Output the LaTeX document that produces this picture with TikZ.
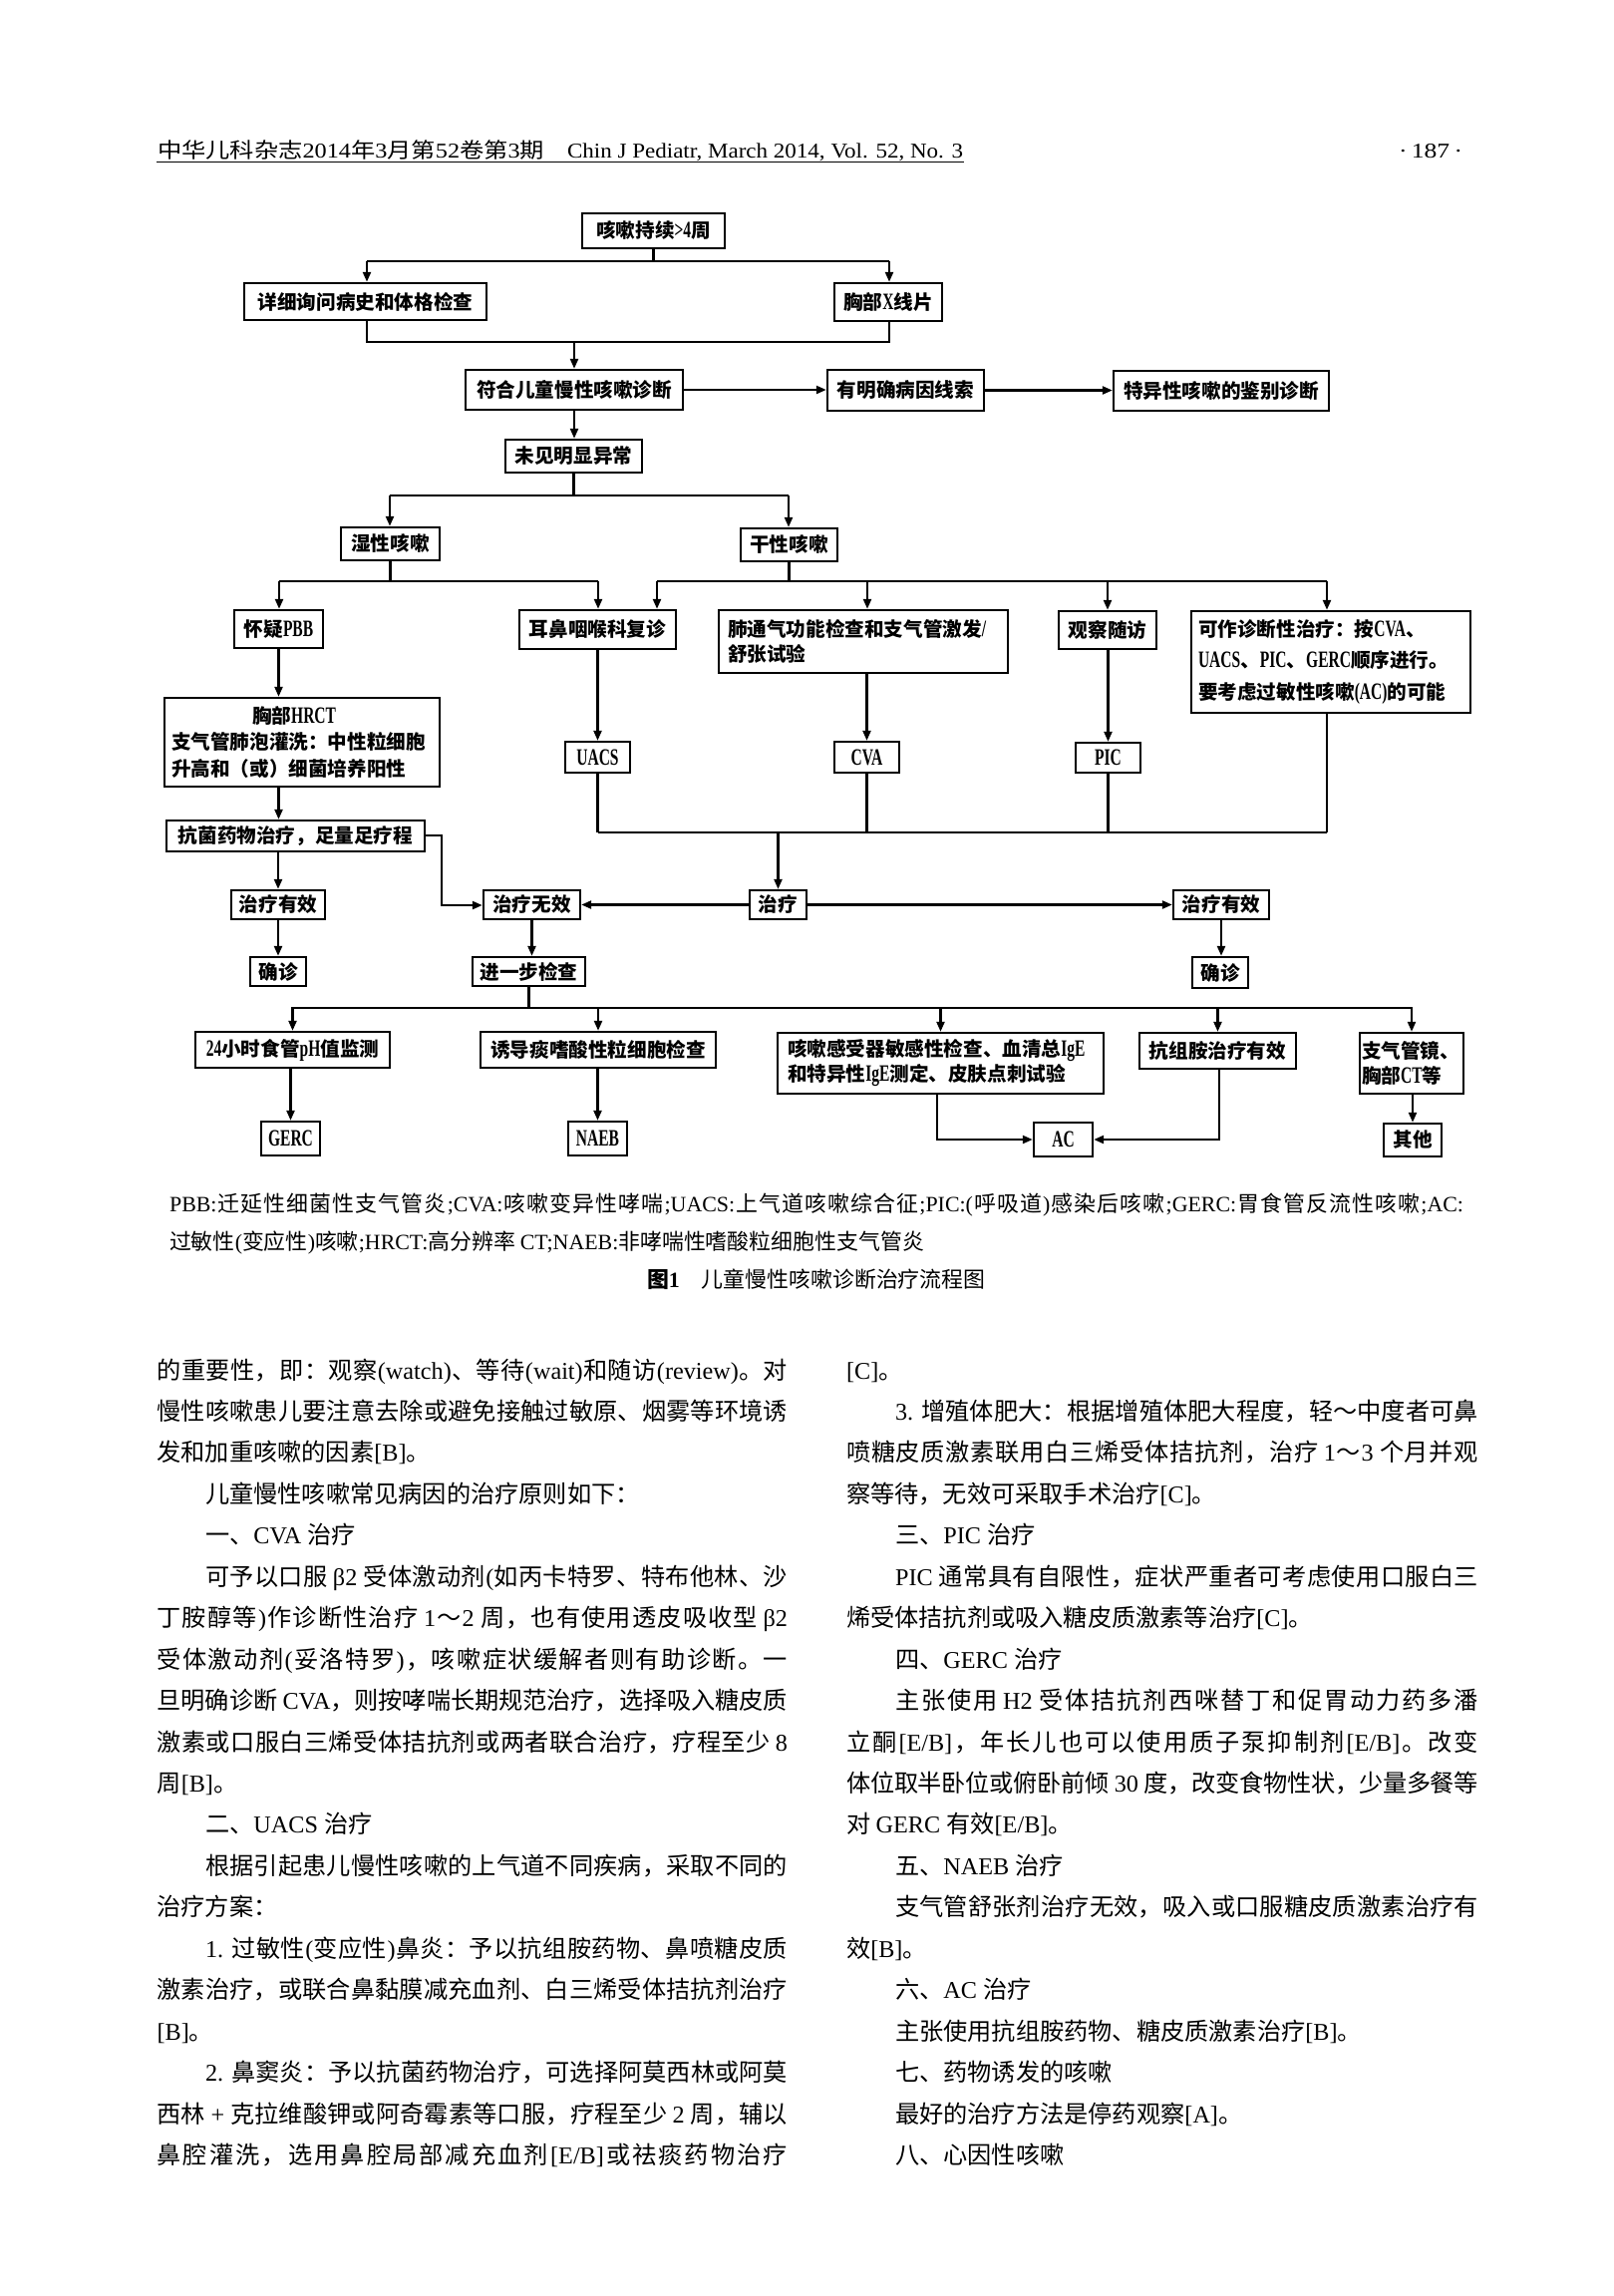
\documentclass[tikz,border=0pt]{standalone}
\usepackage{fontspec}
\usepackage{graphicx}
\usetikzlibrary{arrows.meta}
\setmainfont{Liberation Serif}
\newfontfamily\cjkf{Noto Sans CJK SC}
\newfontfamily\boxlatin{Liberation Serif}[FakeStretch=0.66,Scale=1.2]
\newcommand\latf{\rmfamily}
\newcommand\cjkglue{\hskip0pt plus 0.6em minus 0.04em\relax}
\newdimen\px \px=0.13mm
\newcount\cjkcnt
\newcommand\setcjkrange[2]{\cjkcnt=#1\relax\loop\XeTeXcharclass\cjkcnt=1\relax\advance\cjkcnt by 1\relax\ifnum\cjkcnt<#2\relax\repeat}
\setcjkrange{"4E00}{"A000}
\setcjkrange{"3000}{"3040}
\setcjkrange{"FF00}{"FFF0}
\XeTeXinterchartokenstate=1
\XeTeXinterchartoks 0 1 = {\cjkglue\cjkf}
\XeTeXinterchartoks 1 0 = {\cjkglue\latf}
\XeTeXinterchartoks 1 1 = {\cjkglue}
\XeTeXinterchartoks 4095 1 = {\cjkf}
\XeTeXinterchartoks 4095 0 = {\latf}
\newcommand\bxf[1]{\bfseries\fontsize{7.25}{#1}\selectfont\let\latf\boxlatin}
\newcommand\bodyf{\fontsize{8.95}{15}\selectfont}
\newcommand\legf{\fontsize{8.1}{12}\selectfont}
\newcommand\hdf{\fontsize{7.8}{10}\selectfont}
\tikzset{
  box/.style={draw,line width=0.9pt,inner sep=0pt,font=\bxf{9}},
  arr/.style={-{Triangle[length=1.3mm,width=1.05mm]}},
  txt/.style={anchor=base west,inner sep=0pt,font=\bodyf},
}
\newcommand\mybox[7][]{\node[box,minimum width={(#5-#3)*0.13mm},minimum height={(#6-#4)*0.13mm},#1] (#2) at ({(#3+#5)/2},{(#4+#6)/2}) {#7};}
\newcommand\bodyfull[5]{\node[txt] (#1) at (#2,{1383+41.45*#3}) {\makebox[#4\px][s]{#5}};}
\newcommand\bodyshort[4]{\node[txt] (#1) at (#2,{1383+41.45*#3}) {#4};}
\begin{document}
\begin{tikzpicture}[x=0.13mm,y=-0.13mm,line width=0.8pt]
\useasboundingbox (0,0) rectangle (1619,2303);
\fill[white] (0,0) rectangle (1619,2303);

% header
\node[anchor=base west,inner sep=0pt,font=\hdf] (hd1) at (157,158) {\resizebox{388\px}{\height}{中华儿科杂志2014年3月第52卷第3期}};
\node[anchor=base west,inner sep=0pt,font=\hdf] (hd2) at (568,158) {\resizebox{397\px}{\height}{Chin J Pediatr, March 2014, Vol. 52, No. 3}};
\node[anchor=base west,inner sep=0pt,font=\hdf] (hd3) at (1402,158) {\resizebox{64\px}{\height}{·\,187\,·}};
\draw[line width=0.5pt] ([yshift=-0.55mm]hd1.base west) -- ([yshift=-0.55mm]hd2.base east);

% boxes
\mybox{b1}{584}{214}{727}{249}{咳嗽持续>4周}
\mybox{b2}{245}{284}{488}{321}{详细询问病史和体格检查}
\mybox{b3}{837}{284}{945}{322}{胸部X线片}
\mybox{b4}{467}{371}{685}{411}{符合儿童慢性咳嗽诊断}
\mybox{b5}{830}{371}{987}{412}{有明确病因线索}
\mybox{b6}{1117}{372}{1333}{412}{特异性咳嗽的鉴别诊断}
\mybox{b7}{507}{441}{644}{474}{未见明显异常}
\mybox{b8}{342}{529}{441}{562}{湿性咳嗽}
\mybox{b9}{743}{530}{840}{563}{干性咳嗽}
\mybox{b10}{235}{612}{324}{650}{怀疑PBB}
\mybox{b11}{521}{612}{678}{651}{耳鼻咽喉科复诊}
\mybox[text width=35.36mm,align=left,inner xsep=1.17mm,font=\bxf{9.25}]{b12}{721}{612}{1011}{675}{肺通气功能检查和支气管激发/\\舒张试验}
\mybox{b13}{1062}{613}{1160}{651}{观察随访}
\mybox[text width=34.58mm,align=left,inner xsep=0.91mm,font=\bxf{11.8}]{b14}{1195}{613}{1475}{715}{可作诊断性治疗：按CVA、\\UACS、PIC、GERC顺序进行。\\要考虑过敏性咳嗽(AC)的可能}
\mybox[text width=34.06mm,align=left,inner xsep=0.91mm,font=\bxf{9.8}]{b15}{165}{700}{441}{789}{\hspace*{81\px}胸部HRCT\\支气管肺泡灌洗：中性粒细胞\\升高和（或）细菌培养阳性}
\mybox{b16}{167}{823}{426}{854}{抗菌药物治疗，足量足疗程}
\mybox{b17}{232}{893}{326}{922}{治疗有效}
\mybox{b18}{485}{893}{582}{922}{治疗无效}
\mybox{b19}{752}{893}{809}{922}{治疗}
\mybox{b20}{1177}{893}{1273}{922}{治疗有效}
\mybox{b21}{251}{960}{307}{989}{确诊}
\mybox{b22}{474}{960}{587}{989}{进一步检查}
\mybox{b23}{1196}{960}{1252}{991}{确诊}
\mybox{b24}{567}{744}{632}{775}{UACS}
\mybox{b25}{837}{744}{902}{775}{CVA}
\mybox{b26}{1079}{745}{1144}{775}{PIC}
\mybox{b27}{196}{1035}{391}{1071}{24小时食管pH值监测}
\mybox{b28}{482}{1035}{718}{1071}{诱导痰嗜酸性粒细胞检查}
\mybox[text width=39.91mm,align=left,inner xsep=1.3mm,font=\bxf{9.25}]{b29}{780}{1036}{1107}{1097}{咳嗽感受器敏感性检查、血清总IgE\\和特异性IgE测定、皮肤点刺试验}
\mybox{b30}{1143}{1036}{1300}{1072}{抗组胺治疗有效}
\mybox[text width=13mm,align=left,inner xsep=0.26mm,font=\bxf{9.6}]{b31}{1364}{1036}{1468}{1097}{支气管镜、\\胸部CT等}
\mybox{b32}{262}{1125}{321}{1159}{GERC}
\mybox{b33}{570}{1125}{629}{1159}{NAEB}
\mybox{b34}{1037}{1126}{1096}{1160}{AC}
\mybox{b35}{1388}{1127}{1446}{1160}{其他}

% junction coordinates
\coordinate (c1l) at (368,262); \coordinate (c1r) at (892,262);
\coordinate (c2l) at (368,343); \coordinate (c2r) at (892,343);
\coordinate (c3l) at (391,497); \coordinate (c3r) at (791,497);
\coordinate (c4a) at (280,583); \coordinate (c4b) at (600,583);
\coordinate (c4c) at (659,583); \coordinate (c4d) at (870,583);
\coordinate (c4e) at (1111,583); \coordinate (c4f) at (1331,583);
\coordinate (c5) at (443,838); \coordinate (c6) at (443,908);
\coordinate (c7l) at (600,835); \coordinate (c7r) at (1331,835);
\coordinate (c8l) at (292,1011); \coordinate (c8r) at (1417,1011);
\coordinate (c9l) at (940,1143); \coordinate (c9r) at (1223,1143);

% connectors
\draw (b1.south) -- (b1.south |- c1l);
\draw (c1l) -- (c1r);
\draw[arr] (c1l) -- (c1l |- b2.north);
\draw[arr] (c1r) -- (c1r |- b3.north);
\draw (c2l |- b2.south) -- (c2l) -- (c2r) -- (c2r |- b3.south);
\draw[arr] (b4.north |- c2l) -- (b4.north);
\draw[arr] (b4.east) -- (b4.east -| b5.west);
\draw[arr] (b5.east) -- (b5.east -| b6.west);
\draw[arr] (b4.south) -- (b4.south |- b7.north);
\draw (b7.south) -- (b7.south |- c3l);
\draw (c3l) -- (c3r);
\draw[arr] (c3l) -- (c3l |- b8.north);
\draw[arr] (c3r) -- (c3r |- b9.north);
\draw (b8.south) -- (b8.south |- c4a);
\draw (c4a) -- (c4b);
\draw (b9.south) -- (b9.south |- c4c);
\draw (c4c) -- (c4f);
\draw[arr] (c4a) -- (c4a |- b10.north);
\draw[arr] (c4b) -- (c4b |- b11.north);
\draw[arr] (c4c) -- (c4c |- b11.north);
\draw[arr] (c4d) -- (c4d |- b12.north);
\draw[arr] (c4e) -- (c4e |- b13.north);
\draw[arr] (c4f) -- (c4f |- b14.north);
\draw[arr] (b10.south) -- (b10.south |- b15.north);
\draw[arr] (b10.south |- b15.south) -- (b10.south |- b16.north);
\draw[arr] (b17.north |- b16.south) -- (b17.north);
\draw[arr] (b17.south) -- (b17.south |- b21.north);
\draw[arr] (b16.east |- c5) -- (c5) -- (c6) -- (c6 -| b18.west);
\draw[arr] (b11.south) -- (b11.south |- b24.north);
\draw[arr] (b25.north |- b12.south) -- (b25.north);
\draw[arr] (b26.north |- b13.south) -- (b26.north);
\draw (b24.south) -- (b24.south |- c7l);
\draw (b25.south) -- (b25.south |- c7l);
\draw (b26.south) -- (b26.south |- c7l);
\draw (c7r |- b14.south) -- (c7r);
\draw (c7l) -- (c7r);
\draw[arr] (b19.north |- c7l) -- (b19.north);
\draw[arr] (b19.west) -- (b19.west -| b18.east);
\draw[arr] (b19.east) -- (b19.east -| b20.west);
\draw[arr] (b18.south) -- (b18.south |- b22.north);
\draw[arr] (b20.south) -- (b20.south |- b23.north);
\draw (b22.south) -- (b22.south |- c8l);
\draw (c8l) -- (c8r);
\draw[arr] (b27.north |- c8l) -- (b27.north);
\draw[arr] (b28.north |- c8l) -- (b28.north);
\draw[arr] (b29.north |- c8l) -- (b29.north);
\draw[arr] (b30.north |- c8l) -- (b30.north);
\draw[arr] (b31.north |- c8l) -- (b31.north);
\draw[arr] (b32.north |- b27.south) -- (b32.north);
\draw[arr] (b33.north |- b28.south) -- (b33.north);
\draw[arr] (b35.north |- b31.south) -- (b35.north);
\draw[arr] (c9l |- b29.south) -- (c9l) -- (b34.west);
\draw[arr] (c9r |- b30.south) -- (c9r) -- (b34.east);

% legend and caption
\node[txt,font=\legf] (lg1) at (169,1215) {\makebox[1298\px][s]{PBB:迁延性细菌性支气管炎;CVA:咳嗽变异性哮喘;UACS:上气道咳嗽综合征;PIC:(呼吸道)感染后咳嗽;GERC:胃食管反流性咳嗽;AC:}};
\node[txt,font=\legf] (lg2) at (169,1253) {过敏性(变应性)咳嗽;HRCT:高分辨率 CT;NAEB:非哮喘性嗜酸粒细胞性支气管炎};
\node[txt,font=\legf] (cap) at (648,1291) {{\bfseries 图1}　儿童慢性咳嗽诊断治疗流程图};

% body text, left column
\bodyfull{l0}{156.5}{0}{632.5}{的重要性，即：观察(watch)、等待(wait)和随访(review)。对}
\bodyfull{l1}{156.5}{1}{632.5}{慢性咳嗽患儿要注意去除或避免接触过敏原、烟雾等环境诱}
\bodyshort{l2}{156.5}{2}{发和加重咳嗽的因素[B]。}
\bodyshort{l3}{205}{3}{儿童慢性咳嗽常见病因的治疗原则如下：}
\bodyshort{l4}{205}{4}{一、CVA 治疗}
\bodyfull{l5}{205}{5}{584}{可予以口服 β2 受体激动剂(如丙卡特罗、特布他林、沙}
\bodyfull{l6}{156.5}{6}{632.5}{丁胺醇等)作诊断性治疗 1～2 周，也有使用透皮吸收型 β2}
\bodyfull{l7}{156.5}{7}{632.5}{受体激动剂(妥洛特罗)，咳嗽症状缓解者则有助诊断。一}
\bodyfull{l8}{156.5}{8}{632.5}{旦明确诊断 CVA，则按哮喘长期规范治疗，选择吸入糖皮质}
\bodyfull{l9}{156.5}{9}{632.5}{激素或口服白三烯受体拮抗剂或两者联合治疗，疗程至少 8}
\bodyshort{l10}{156.5}{10}{周[B]。}
\bodyshort{l11}{205}{11}{二、UACS 治疗}
\bodyfull{l12}{205}{12}{584}{根据引起患儿慢性咳嗽的上气道不同疾病，采取不同的}
\bodyshort{l13}{156.5}{13}{治疗方案：}
\bodyfull{l14}{205}{14}{584}{1. 过敏性(变应性)鼻炎：予以抗组胺药物、鼻喷糖皮质}
\bodyfull{l15}{156.5}{15}{632.5}{激素治疗，或联合鼻黏膜减充血剂、白三烯受体拮抗剂治疗}
\bodyshort{l16}{156.5}{16}{[B]。}
\bodyfull{l17}{205}{17}{584}{2. 鼻窦炎：予以抗菌药物治疗，可选择阿莫西林或阿莫}
\bodyfull{l18}{156.5}{18}{632.5}{西林 + 克拉维酸钾或阿奇霉素等口服，疗程至少 2 周，辅以}
\bodyfull{l19}{156.5}{19}{632.5}{鼻腔灌洗，选用鼻腔局部减充血剂[E/B]或祛痰药物治疗}

% body text, right column
\bodyshort{r0}{848}{0}{[C]。}
\bodyfull{r1}{897}{1}{585}{3. 增殖体肥大：根据增殖体肥大程度，轻～中度者可鼻}
\bodyfull{r2}{848}{2}{634}{喷糖皮质激素联用白三烯受体拮抗剂，治疗 1～3 个月并观}
\bodyshort{r3}{848}{3}{察等待，无效可采取手术治疗[C]。}
\bodyshort{r4}{897}{4}{三、PIC 治疗}
\bodyfull{r5}{897}{5}{585}{PIC 通常具有自限性，症状严重者可考虑使用口服白三}
\bodyshort{r6}{848}{6}{烯受体拮抗剂或吸入糖皮质激素等治疗[C]。}
\bodyshort{r7}{897}{7}{四、GERC 治疗}
\bodyfull{r8}{897}{8}{585}{主张使用 H2 受体拮抗剂西咪替丁和促胃动力药多潘}
\bodyfull{r9}{848}{9}{634}{立酮[E/B]，年长儿也可以使用质子泵抑制剂[E/B]。改变}
\bodyfull{r10}{848}{10}{634}{体位取半卧位或俯卧前倾 30 度，改变食物性状，少量多餐等}
\bodyshort{r11}{848}{11}{对 GERC 有效[E/B]。}
\bodyshort{r12}{897}{12}{五、NAEB 治疗}
\bodyfull{r13}{897}{13}{585}{支气管舒张剂治疗无效，吸入或口服糖皮质激素治疗有}
\bodyshort{r14}{848}{14}{效[B]。}
\bodyshort{r15}{897}{15}{六、AC 治疗}
\bodyshort{r16}{897}{16}{主张使用抗组胺药物、糖皮质激素治疗[B]。}
\bodyshort{r17}{897}{17}{七、药物诱发的咳嗽}
\bodyshort{r18}{897}{18}{最好的治疗方法是停药观察[A]。}
\bodyshort{r19}{897}{19}{八、心因性咳嗽}
\end{tikzpicture}
\end{document}
